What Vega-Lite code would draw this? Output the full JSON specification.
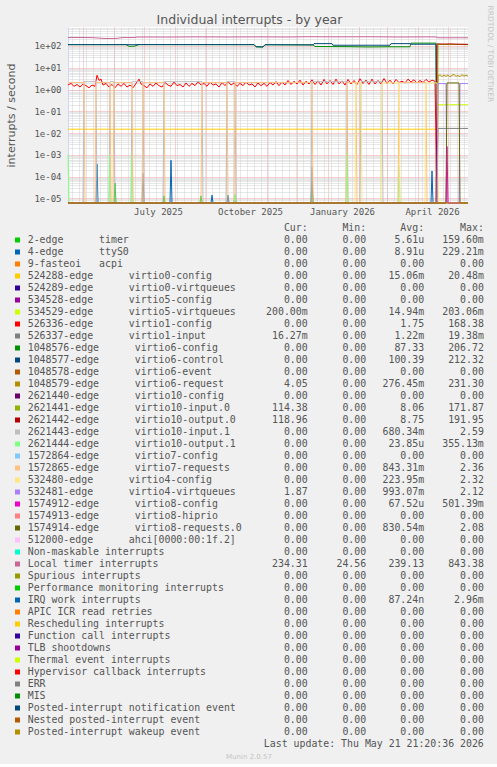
{
"$schema": "https://vega.github.io/schema/vega-lite/v6.json",
"background": "#F0F0F0",
"padding": {"left": 5, "top": 5, "right": 4, "bottom": 4},
"autosize": {"type": "pad"},
"bounds": "flush",
"spacing": 25,
"config": {
  "view": {"stroke": null},
  "axis": {"labelFont": "DejaVu Sans Mono", "labelFontSize": 9, "labelColor": "#555555", "titleFont": "DejaVu Sans", "titleFontWeight": "normal", "titleColor": "#555555", "domainColor": "#CFD6F8", "ticks": false, "tickSize": 0, "labelOverlap": false, "labelFlush": false},
  "text": {"font": "DejaVu Sans Mono", "fontSize": 9.9, "color": "#555555", "baseline": "middle"}
},
"datasets": {
"series": [
{"k":"timer","t":"2025-04-16","v":0},{"k":"timer","t":"2025-06-01","v":0},{"k":"timer","t":"2025-06-02","v":0.00005},{"k":"timer","t":"2025-06-03","v":0},{"k":"timer","t":"2025-07-20","v":0},{"k":"timer","t":"2025-07-21","v":0.000013},{"k":"timer","t":"2025-07-22","v":0},{"k":"timer","t":"2025-08-26","v":0},{"k":"timer","t":"2025-08-27","v":0.000013},{"k":"timer","t":"2025-08-28","v":0},{"k":"timer","t":"2025-12-15","v":0},{"k":"timer","t":"2025-12-16","v":0.00005},{"k":"timer","t":"2025-12-17","v":0},{"k":"timer","t":"2026-05-21","v":0},
{"k":"ttyS0","t":"2025-04-16","v":0},{"k":"ttyS0","t":"2025-05-14","v":0},{"k":"ttyS0","t":"2025-05-15","v":0.00037},{"k":"ttyS0","t":"2025-05-16","v":0},{"k":"ttyS0","t":"2025-07-27","v":0},{"k":"ttyS0","t":"2025-07-28","v":0.00056},{"k":"ttyS0","t":"2025-07-29","v":0},{"k":"ttyS0","t":"2025-09-06","v":0},{"k":"ttyS0","t":"2025-09-07","v":0.000014},{"k":"ttyS0","t":"2025-09-08","v":0},{"k":"ttyS0","t":"2025-09-22","v":0},{"k":"ttyS0","t":"2025-09-23","v":0.000014},{"k":"ttyS0","t":"2025-09-24","v":0},{"k":"ttyS0","t":"2025-09-29","v":0},{"k":"ttyS0","t":"2025-09-30","v":0.000014},{"k":"ttyS0","t":"2025-10-01","v":0},{"k":"ttyS0","t":"2026-04-14","v":0},{"k":"ttyS0","t":"2026-04-15","v":0.00018},{"k":"ttyS0","t":"2026-04-16","v":0},{"k":"ttyS0","t":"2026-05-21","v":0},
{"k":"virtio0-config","t":"2025-04-16","v":0.015},{"k":"virtio0-config","t":"2026-04-20","v":0.015},{"k":"virtio0-config","t":"2026-04-21","v":0},{"k":"virtio0-config","t":"2026-05-21","v":0},
{"k":"virtio5-virtqueues","t":"2025-04-16","v":0},{"k":"virtio5-virtqueues","t":"2026-04-20","v":0},{"k":"virtio5-virtqueues","t":"2026-04-21","v":0.2},{"k":"virtio5-virtqueues","t":"2026-05-21","v":0.2},
{"k":"virtio1-config","t":"2025-04-16","v":1.6},{"k":"virtio1-config","t":"2025-04-19","v":1.9},{"k":"virtio1-config","t":"2025-04-22","v":1.4},{"k":"virtio1-config","t":"2025-04-25","v":1.7},{"k":"virtio1-config","t":"2025-04-28","v":1.3},{"k":"virtio1-config","t":"2025-05-01","v":1.8},{"k":"virtio1-config","t":"2025-05-04","v":1.5},{"k":"virtio1-config","t":"2025-05-07","v":1.2},{"k":"virtio1-config","t":"2025-05-10","v":1.6},{"k":"virtio1-config","t":"2025-05-13","v":1.4},{"k":"virtio1-config","t":"2025-05-15","v":4.5},{"k":"virtio1-config","t":"2025-05-17","v":2.6},{"k":"virtio1-config","t":"2025-05-19","v":3.0},{"k":"virtio1-config","t":"2025-05-21","v":1.6},{"k":"virtio1-config","t":"2025-05-24","v":1.9},{"k":"virtio1-config","t":"2025-05-27","v":1.3},{"k":"virtio1-config","t":"2025-05-30","v":1.7},{"k":"virtio1-config","t":"2025-06-02","v":1.2},{"k":"virtio1-config","t":"2025-06-05","v":1.8},{"k":"virtio1-config","t":"2025-06-08","v":1.4},{"k":"virtio1-config","t":"2025-06-11","v":1.9},{"k":"virtio1-config","t":"2025-06-14","v":1.3},{"k":"virtio1-config","t":"2025-06-17","v":1.6},{"k":"virtio1-config","t":"2025-06-20","v":1.2},{"k":"virtio1-config","t":"2025-06-26","v":3.0},{"k":"virtio1-config","t":"2025-06-28","v":1.8},{"k":"virtio1-config","t":"2025-07-01","v":1.5},{"k":"virtio1-config","t":"2025-07-04","v":1.2},{"k":"virtio1-config","t":"2025-07-07","v":1.8},{"k":"virtio1-config","t":"2025-07-10","v":1.4},{"k":"virtio1-config","t":"2025-07-13","v":2.0},{"k":"virtio1-config","t":"2025-07-16","v":1.5},{"k":"virtio1-config","t":"2025-07-19","v":1.3},{"k":"virtio1-config","t":"2025-07-22","v":2.1},{"k":"virtio1-config","t":"2025-07-25","v":1.6},{"k":"virtio1-config","t":"2025-07-28","v":1.4},{"k":"virtio1-config","t":"2025-07-31","v":2.2},{"k":"virtio1-config","t":"2025-08-03","v":1.5},{"k":"virtio1-config","t":"2025-08-06","v":1.7},{"k":"virtio1-config","t":"2025-08-09","v":1.3},{"k":"virtio1-config","t":"2025-08-12","v":2.0},{"k":"virtio1-config","t":"2025-08-15","v":1.4},{"k":"virtio1-config","t":"2025-08-18","v":1.9},{"k":"virtio1-config","t":"2025-08-21","v":1.5},{"k":"virtio1-config","t":"2025-08-24","v":2.3},{"k":"virtio1-config","t":"2025-08-27","v":1.6},{"k":"virtio1-config","t":"2025-08-30","v":1.9},{"k":"virtio1-config","t":"2025-09-02","v":1.4},{"k":"virtio1-config","t":"2025-09-05","v":2.2},{"k":"virtio1-config","t":"2025-09-08","v":1.6},{"k":"virtio1-config","t":"2025-09-11","v":1.8},{"k":"virtio1-config","t":"2025-09-14","v":1.3},{"k":"virtio1-config","t":"2025-09-17","v":2.1},{"k":"virtio1-config","t":"2025-09-20","v":1.5},{"k":"virtio1-config","t":"2025-09-23","v":2.3},{"k":"virtio1-config","t":"2025-09-26","v":1.6},{"k":"virtio1-config","t":"2025-09-29","v":2.0},{"k":"virtio1-config","t":"2025-10-02","v":1.4},{"k":"virtio1-config","t":"2025-10-05","v":1.9},{"k":"virtio1-config","t":"2025-10-08","v":1.5},{"k":"virtio1-config","t":"2025-10-11","v":2.2},{"k":"virtio1-config","t":"2025-10-14","v":1.6},{"k":"virtio1-config","t":"2025-10-17","v":1.8},{"k":"virtio1-config","t":"2025-10-20","v":1.3},{"k":"virtio1-config","t":"2025-10-23","v":2.0},{"k":"virtio1-config","t":"2025-10-26","v":1.5},{"k":"virtio1-config","t":"2025-10-29","v":1.9},{"k":"virtio1-config","t":"2025-11-01","v":1.4},{"k":"virtio1-config","t":"2025-11-04","v":2.1},{"k":"virtio1-config","t":"2025-11-07","v":1.6},{"k":"virtio1-config","t":"2025-11-10","v":2.3},{"k":"virtio1-config","t":"2025-11-13","v":1.5},{"k":"virtio1-config","t":"2025-11-16","v":2.2},{"k":"virtio1-config","t":"2025-11-19","v":1.6},{"k":"virtio1-config","t":"2025-11-22","v":2.6},{"k":"virtio1-config","t":"2025-11-25","v":1.7},{"k":"virtio1-config","t":"2025-11-28","v":2.4},{"k":"virtio1-config","t":"2025-12-01","v":1.8},{"k":"virtio1-config","t":"2025-12-04","v":2.7},{"k":"virtio1-config","t":"2025-12-07","v":1.6},{"k":"virtio1-config","t":"2025-12-10","v":2.4},{"k":"virtio1-config","t":"2025-12-13","v":1.8},{"k":"virtio1-config","t":"2025-12-16","v":2.8},{"k":"virtio1-config","t":"2025-12-19","v":1.7},{"k":"virtio1-config","t":"2025-12-22","v":2.5},{"k":"virtio1-config","t":"2025-12-25","v":1.6},{"k":"virtio1-config","t":"2025-12-28","v":2.9},{"k":"virtio1-config","t":"2025-12-31","v":1.8},{"k":"virtio1-config","t":"2026-01-03","v":2.6},{"k":"virtio1-config","t":"2026-01-06","v":1.7},{"k":"virtio1-config","t":"2026-01-09","v":3.0},{"k":"virtio1-config","t":"2026-01-12","v":1.8},{"k":"virtio1-config","t":"2026-01-15","v":2.5},{"k":"virtio1-config","t":"2026-01-18","v":1.6},{"k":"virtio1-config","t":"2026-01-21","v":2.9},{"k":"virtio1-config","t":"2026-01-24","v":1.8},{"k":"virtio1-config","t":"2026-01-27","v":2.6},{"k":"virtio1-config","t":"2026-01-30","v":1.7},{"k":"virtio1-config","t":"2026-02-02","v":3.1},{"k":"virtio1-config","t":"2026-02-05","v":1.9},{"k":"virtio1-config","t":"2026-02-08","v":2.7},{"k":"virtio1-config","t":"2026-02-11","v":1.7},{"k":"virtio1-config","t":"2026-02-14","v":3.0},{"k":"virtio1-config","t":"2026-02-17","v":1.8},{"k":"virtio1-config","t":"2026-02-20","v":2.6},{"k":"virtio1-config","t":"2026-02-23","v":1.8},{"k":"virtio1-config","t":"2026-02-26","v":3.2},{"k":"virtio1-config","t":"2026-03-01","v":1.9},{"k":"virtio1-config","t":"2026-03-04","v":2.7},{"k":"virtio1-config","t":"2026-03-07","v":1.8},{"k":"virtio1-config","t":"2026-03-10","v":2.9},{"k":"virtio1-config","t":"2026-03-13","v":2.1},{"k":"virtio1-config","t":"2026-03-16","v":2.4},{"k":"virtio1-config","t":"2026-03-19","v":2.0},{"k":"virtio1-config","t":"2026-03-22","v":3.0},{"k":"virtio1-config","t":"2026-03-25","v":2.2},{"k":"virtio1-config","t":"2026-03-28","v":2.8},{"k":"virtio1-config","t":"2026-03-31","v":2.0},{"k":"virtio1-config","t":"2026-04-03","v":2.6},{"k":"virtio1-config","t":"2026-04-06","v":2.1},{"k":"virtio1-config","t":"2026-04-09","v":2.9},{"k":"virtio1-config","t":"2026-04-12","v":2.2},{"k":"virtio1-config","t":"2026-04-15","v":2.7},{"k":"virtio1-config","t":"2026-04-18","v":2.4},{"k":"virtio1-config","t":"2026-04-20","v":0},{"k":"virtio1-config","t":"2026-05-21","v":0},
{"k":"virtio1-input","t":"2025-04-16","v":0},{"k":"virtio1-input","t":"2025-06-29","v":0},{"k":"virtio1-input","t":"2025-06-30","v":0.00014},{"k":"virtio1-input","t":"2025-07-01","v":0},{"k":"virtio1-input","t":"2025-12-15","v":0},{"k":"virtio1-input","t":"2025-12-16","v":0.00028},{"k":"virtio1-input","t":"2025-12-17","v":0},{"k":"virtio1-input","t":"2026-04-20","v":0},{"k":"virtio1-input","t":"2026-04-21","v":0.0163},{"k":"virtio1-input","t":"2026-05-21","v":0.0163},
{"k":"virtio6-config","t":"2025-04-16","v":115},{"k":"virtio6-config","t":"2025-06-13","v":115},{"k":"virtio6-config","t":"2025-06-16","v":97},{"k":"virtio6-config","t":"2025-06-21","v":97},{"k":"virtio6-config","t":"2025-06-26","v":115},{"k":"virtio6-config","t":"2025-10-19","v":115},{"k":"virtio6-config","t":"2025-10-21","v":92},{"k":"virtio6-config","t":"2025-10-28","v":90},{"k":"virtio6-config","t":"2025-10-30","v":114},{"k":"virtio6-config","t":"2025-12-17","v":112},{"k":"virtio6-config","t":"2025-12-19","v":95},{"k":"virtio6-config","t":"2026-01-21","v":93},{"k":"virtio6-config","t":"2026-02-10","v":90},{"k":"virtio6-config","t":"2026-03-02","v":92},{"k":"virtio6-config","t":"2026-03-24","v":92},{"k":"virtio6-config","t":"2026-03-25","v":135},{"k":"virtio6-config","t":"2026-04-19","v":135},{"k":"virtio6-config","t":"2026-04-20","v":0},{"k":"virtio6-config","t":"2026-05-21","v":0},
{"k":"virtio6-control","t":"2025-04-16","v":115},{"k":"virtio6-control","t":"2025-06-13","v":115},{"k":"virtio6-control","t":"2025-06-21","v":114},{"k":"virtio6-control","t":"2025-06-26","v":116},{"k":"virtio6-control","t":"2025-10-19","v":115},{"k":"virtio6-control","t":"2025-10-21","v":92},{"k":"virtio6-control","t":"2025-10-28","v":90},{"k":"virtio6-control","t":"2025-10-30","v":114},{"k":"virtio6-control","t":"2025-12-17","v":112},{"k":"virtio6-control","t":"2025-12-18","v":128},{"k":"virtio6-control","t":"2026-01-05","v":128},{"k":"virtio6-control","t":"2026-01-06","v":108},{"k":"virtio6-control","t":"2026-03-04","v":108},{"k":"virtio6-control","t":"2026-03-05","v":128},{"k":"virtio6-control","t":"2026-03-24","v":128},{"k":"virtio6-control","t":"2026-03-25","v":120},{"k":"virtio6-control","t":"2026-04-19","v":120},{"k":"virtio6-control","t":"2026-04-20","v":0},{"k":"virtio6-control","t":"2026-05-21","v":0},
{"k":"virtio6-request","t":"2025-04-16","v":0},{"k":"virtio6-request","t":"2026-04-20","v":0},{"k":"virtio6-request","t":"2026-04-21","v":4.2},{"k":"virtio6-request","t":"2026-04-23","v":4.8},{"k":"virtio6-request","t":"2026-04-25","v":3.9},{"k":"virtio6-request","t":"2026-04-27","v":4.6},{"k":"virtio6-request","t":"2026-04-29","v":4.0},{"k":"virtio6-request","t":"2026-05-01","v":4.7},{"k":"virtio6-request","t":"2026-05-03","v":3.8},{"k":"virtio6-request","t":"2026-05-05","v":4.5},{"k":"virtio6-request","t":"2026-05-07","v":4.9},{"k":"virtio6-request","t":"2026-05-09","v":4.0},{"k":"virtio6-request","t":"2026-05-11","v":4.4},{"k":"virtio6-request","t":"2026-05-13","v":3.9},{"k":"virtio6-request","t":"2026-05-15","v":4.8},{"k":"virtio6-request","t":"2026-05-17","v":4.1},{"k":"virtio6-request","t":"2026-05-19","v":4.6},{"k":"virtio6-request","t":"2026-05-21","v":4.05},
{"k":"virtio10-input.0","t":"2025-04-16","v":0},{"k":"virtio10-input.0","t":"2026-04-20","v":0},{"k":"virtio10-input.0","t":"2026-04-21","v":117},{"k":"virtio10-input.0","t":"2026-05-01","v":116},{"k":"virtio10-input.0","t":"2026-05-11","v":117},{"k":"virtio10-input.0","t":"2026-05-21","v":114},
{"k":"virtio10-output.0","t":"2025-04-16","v":0},{"k":"virtio10-output.0","t":"2026-04-19","v":0},{"k":"virtio10-output.0","t":"2026-04-20","v":125},{"k":"virtio10-output.0","t":"2026-04-26","v":122},{"k":"virtio10-output.0","t":"2026-05-03","v":124},{"k":"virtio10-output.0","t":"2026-05-11","v":121},{"k":"virtio10-output.0","t":"2026-05-21","v":119},
{"k":"virtio10-input.1","t":"2025-04-16","v":0},{"k":"virtio10-input.1","t":"2025-05-01","v":0},{"k":"virtio10-input.1","t":"2025-05-02","v":2.3},{"k":"virtio10-input.1","t":"2025-05-14","v":2.3},{"k":"virtio10-input.1","t":"2025-05-15","v":0},{"k":"virtio10-input.1","t":"2025-05-27","v":0},{"k":"virtio10-input.1","t":"2025-05-28","v":2.3},{"k":"virtio10-input.1","t":"2025-06-01","v":2.3},{"k":"virtio10-input.1","t":"2025-06-02","v":0},{"k":"virtio10-input.1","t":"2025-06-18","v":0},{"k":"virtio10-input.1","t":"2025-06-19","v":2.3},{"k":"virtio10-input.1","t":"2025-06-30","v":2.3},{"k":"virtio10-input.1","t":"2025-07-01","v":0},{"k":"virtio10-input.1","t":"2025-07-20","v":0},{"k":"virtio10-input.1","t":"2025-07-21","v":2.3},{"k":"virtio10-input.1","t":"2025-08-28","v":2.3},{"k":"virtio10-input.1","t":"2025-08-29","v":0},{"k":"virtio10-input.1","t":"2025-09-21","v":0},{"k":"virtio10-input.1","t":"2025-09-22","v":2.3},{"k":"virtio10-input.1","t":"2025-09-30","v":2.3},{"k":"virtio10-input.1","t":"2025-10-01","v":0},{"k":"virtio10-input.1","t":"2025-12-15","v":0},{"k":"virtio10-input.1","t":"2025-12-16","v":2.3},{"k":"virtio10-input.1","t":"2026-01-20","v":2.3},{"k":"virtio10-input.1","t":"2026-01-21","v":0},{"k":"virtio10-input.1","t":"2026-02-02","v":0},{"k":"virtio10-input.1","t":"2026-02-03","v":2.3},{"k":"virtio10-input.1","t":"2026-02-24","v":2.3},{"k":"virtio10-input.1","t":"2026-02-25","v":0},{"k":"virtio10-input.1","t":"2026-05-21","v":0},
{"k":"virtio10-output.1","t":"2025-04-16","v":0.001},{"k":"virtio10-output.1","t":"2025-04-17","v":0},{"k":"virtio10-output.1","t":"2025-05-27","v":0},{"k":"virtio10-output.1","t":"2025-05-28","v":0.001},{"k":"virtio10-output.1","t":"2025-05-29","v":0},{"k":"virtio10-output.1","t":"2025-06-18","v":0},{"k":"virtio10-output.1","t":"2025-06-19","v":0.001},{"k":"virtio10-output.1","t":"2025-06-20","v":0},{"k":"virtio10-output.1","t":"2025-09-29","v":0},{"k":"virtio10-output.1","t":"2025-09-30","v":0.000015},{"k":"virtio10-output.1","t":"2025-10-01","v":0},{"k":"virtio10-output.1","t":"2026-01-19","v":0},{"k":"virtio10-output.1","t":"2026-01-20","v":0.0012},{"k":"virtio10-output.1","t":"2026-01-21","v":0},{"k":"virtio10-output.1","t":"2026-03-12","v":0},{"k":"virtio10-output.1","t":"2026-03-13","v":0.00028},{"k":"virtio10-output.1","t":"2026-03-14","v":0},{"k":"virtio10-output.1","t":"2026-05-21","v":0},
{"k":"virtio7-requests","t":"2025-04-16","v":2.1},{"k":"virtio7-requests","t":"2025-05-02","v":2.1},{"k":"virtio7-requests","t":"2025-05-03","v":0},{"k":"virtio7-requests","t":"2025-05-13","v":0},{"k":"virtio7-requests","t":"2025-05-14","v":2.1},{"k":"virtio7-requests","t":"2025-05-28","v":2.1},{"k":"virtio7-requests","t":"2025-05-29","v":0},{"k":"virtio7-requests","t":"2025-05-31","v":0},{"k":"virtio7-requests","t":"2025-06-01","v":2.1},{"k":"virtio7-requests","t":"2025-06-19","v":2.1},{"k":"virtio7-requests","t":"2025-06-20","v":0},{"k":"virtio7-requests","t":"2025-06-29","v":0},{"k":"virtio7-requests","t":"2025-06-30","v":2.1},{"k":"virtio7-requests","t":"2025-07-21","v":2.1},{"k":"virtio7-requests","t":"2025-07-22","v":0},{"k":"virtio7-requests","t":"2025-08-27","v":0},{"k":"virtio7-requests","t":"2025-08-28","v":2.1},{"k":"virtio7-requests","t":"2025-09-22","v":2.1},{"k":"virtio7-requests","t":"2025-09-23","v":0},{"k":"virtio7-requests","t":"2025-09-29","v":0},{"k":"virtio7-requests","t":"2025-09-30","v":2.1},{"k":"virtio7-requests","t":"2025-12-16","v":2.1},{"k":"virtio7-requests","t":"2025-12-17","v":0},{"k":"virtio7-requests","t":"2026-01-19","v":0},{"k":"virtio7-requests","t":"2026-01-20","v":2.1},{"k":"virtio7-requests","t":"2026-01-29","v":2.1},{"k":"virtio7-requests","t":"2026-01-30","v":0},{"k":"virtio7-requests","t":"2026-03-12","v":0},{"k":"virtio7-requests","t":"2026-03-13","v":2.1},{"k":"virtio7-requests","t":"2026-04-09","v":2.1},{"k":"virtio7-requests","t":"2026-04-10","v":0},{"k":"virtio7-requests","t":"2026-05-21","v":0},
{"k":"virtio4-config","t":"2025-04-16","v":0},{"k":"virtio4-config","t":"2026-01-28","v":0},{"k":"virtio4-config","t":"2026-01-29","v":2.0},{"k":"virtio4-config","t":"2026-02-03","v":2.0},{"k":"virtio4-config","t":"2026-02-04","v":0},{"k":"virtio4-config","t":"2026-02-23","v":0},{"k":"virtio4-config","t":"2026-02-24","v":2.0},{"k":"virtio4-config","t":"2026-03-13","v":2.0},{"k":"virtio4-config","t":"2026-03-14","v":0},{"k":"virtio4-config","t":"2026-04-08","v":0},{"k":"virtio4-config","t":"2026-04-09","v":2.0},{"k":"virtio4-config","t":"2026-04-20","v":2.0},{"k":"virtio4-config","t":"2026-04-21","v":0},{"k":"virtio4-config","t":"2026-05-21","v":0},
{"k":"virtio4-virtqueues","t":"2025-04-16","v":0},{"k":"virtio4-virtqueues","t":"2026-04-20","v":0},{"k":"virtio4-virtqueues","t":"2026-04-21","v":1.87},{"k":"virtio4-virtqueues","t":"2026-04-29","v":1.87},{"k":"virtio4-virtqueues","t":"2026-04-30","v":0},{"k":"virtio4-virtqueues","t":"2026-05-12","v":0},{"k":"virtio4-virtqueues","t":"2026-05-13","v":1.87},{"k":"virtio4-virtqueues","t":"2026-05-21","v":1.87},
{"k":"virtio8-config","t":"2025-04-16","v":0},{"k":"virtio8-config","t":"2026-04-29","v":0},{"k":"virtio8-config","t":"2026-04-30","v":0.0024},{"k":"virtio8-config","t":"2026-05-01","v":0},{"k":"virtio8-config","t":"2026-05-21","v":0},
{"k":"virtio8-requests.0","t":"2025-04-16","v":0},{"k":"virtio8-requests.0","t":"2026-04-29","v":0},{"k":"virtio8-requests.0","t":"2026-04-30","v":2.0},{"k":"virtio8-requests.0","t":"2026-05-12","v":2.0},{"k":"virtio8-requests.0","t":"2026-05-13","v":0},{"k":"virtio8-requests.0","t":"2026-05-21","v":0},
{"k":"LOC","t":"2025-04-16","v":245},{"k":"LOC","t":"2025-04-28","v":246},{"k":"LOC","t":"2025-05-10","v":242},{"k":"LOC","t":"2025-05-16","v":232},{"k":"LOC","t":"2025-05-22","v":221},{"k":"LOC","t":"2025-06-03","v":222},{"k":"LOC","t":"2025-06-10","v":244},{"k":"LOC","t":"2025-06-21","v":244},{"k":"LOC","t":"2025-06-25","v":258},{"k":"LOC","t":"2025-07-25","v":257},{"k":"LOC","t":"2025-08-24","v":262},{"k":"LOC","t":"2025-09-23","v":258},{"k":"LOC","t":"2025-10-23","v":262},{"k":"LOC","t":"2025-11-22","v":258},{"k":"LOC","t":"2025-12-12","v":266},{"k":"LOC","t":"2026-01-11","v":262},{"k":"LOC","t":"2026-02-10","v":265},{"k":"LOC","t":"2026-03-12","v":258},{"k":"LOC","t":"2026-04-11","v":262},{"k":"LOC","t":"2026-04-19","v":258},{"k":"LOC","t":"2026-04-21","v":238},{"k":"LOC","t":"2026-05-21","v":238},
{"k":"PIW","t":"2025-04-16","v":0},{"k":"PIW","t":"2026-05-21","v":0}
],
"legend": [
{"k":"hdr","n":"","c":"Cur:\u00a0\u00a0","mi":"Min:\u00a0\u00a0","a":"Avg:\u00a0\u00a0","ma":"Max:\u00a0\u00a0"},
{"k":"timer","n":"2-edge\u00a0\u00a0\u00a0\u00a0\u00a0\u00a0timer","c":"0.00\u00a0","mi":"0.00\u00a0","a":"5.61u","ma":"159.60m"},
{"k":"ttyS0","n":"4-edge\u00a0\u00a0\u00a0\u00a0\u00a0\u00a0ttyS0","c":"0.00\u00a0","mi":"0.00\u00a0","a":"8.91u","ma":"229.21m"},
{"k":"acpi","n":"9-fasteoi\u00a0\u00a0\u00a0acpi","c":"0.00\u00a0","mi":"0.00\u00a0","a":"0.00\u00a0","ma":"0.00\u00a0"},
{"k":"virtio0-config","n":"524288-edge\u00a0\u00a0\u00a0\u00a0\u00a0\u00a0virtio0-config","c":"0.00\u00a0","mi":"0.00\u00a0","a":"15.06m","ma":"20.48m"},
{"k":"virtio0-virtqueues","n":"524289-edge\u00a0\u00a0\u00a0\u00a0\u00a0\u00a0virtio0-virtqueues","c":"0.00\u00a0","mi":"0.00\u00a0","a":"0.00\u00a0","ma":"0.00\u00a0"},
{"k":"virtio5-config","n":"534528-edge\u00a0\u00a0\u00a0\u00a0\u00a0\u00a0virtio5-config","c":"0.00\u00a0","mi":"0.00\u00a0","a":"0.00\u00a0","ma":"0.00\u00a0"},
{"k":"virtio5-virtqueues","n":"534529-edge\u00a0\u00a0\u00a0\u00a0\u00a0\u00a0virtio5-virtqueues","c":"200.00m","mi":"0.00\u00a0","a":"14.94m","ma":"203.06m"},
{"k":"virtio1-config","n":"526336-edge\u00a0\u00a0\u00a0\u00a0\u00a0\u00a0virtio1-config","c":"0.00\u00a0","mi":"0.00\u00a0","a":"1.75\u00a0","ma":"168.38\u00a0"},
{"k":"virtio1-input","n":"526337-edge\u00a0\u00a0\u00a0\u00a0\u00a0\u00a0virtio1-input","c":"16.27m","mi":"0.00\u00a0","a":"1.22m","ma":"19.38m"},
{"k":"virtio6-config","n":"1048576-edge\u00a0\u00a0\u00a0\u00a0\u00a0\u00a0virtio6-config","c":"0.00\u00a0","mi":"0.00\u00a0","a":"87.33\u00a0","ma":"206.72\u00a0"},
{"k":"virtio6-control","n":"1048577-edge\u00a0\u00a0\u00a0\u00a0\u00a0\u00a0virtio6-control","c":"0.00\u00a0","mi":"0.00\u00a0","a":"100.39\u00a0","ma":"212.32\u00a0"},
{"k":"virtio6-event","n":"1048578-edge\u00a0\u00a0\u00a0\u00a0\u00a0\u00a0virtio6-event","c":"0.00\u00a0","mi":"0.00\u00a0","a":"0.00\u00a0","ma":"0.00\u00a0"},
{"k":"virtio6-request","n":"1048579-edge\u00a0\u00a0\u00a0\u00a0\u00a0\u00a0virtio6-request","c":"4.05\u00a0","mi":"0.00\u00a0","a":"276.45m","ma":"231.30\u00a0"},
{"k":"virtio10-config","n":"2621440-edge\u00a0\u00a0\u00a0\u00a0\u00a0\u00a0virtio10-config","c":"0.00\u00a0","mi":"0.00\u00a0","a":"0.00\u00a0","ma":"0.00\u00a0"},
{"k":"virtio10-input.0","n":"2621441-edge\u00a0\u00a0\u00a0\u00a0\u00a0\u00a0virtio10-input.0","c":"114.38\u00a0","mi":"0.00\u00a0","a":"8.06\u00a0","ma":"171.87\u00a0"},
{"k":"virtio10-output.0","n":"2621442-edge\u00a0\u00a0\u00a0\u00a0\u00a0\u00a0virtio10-output.0","c":"118.96\u00a0","mi":"0.00\u00a0","a":"8.75\u00a0","ma":"191.95\u00a0"},
{"k":"virtio10-input.1","n":"2621443-edge\u00a0\u00a0\u00a0\u00a0\u00a0\u00a0virtio10-input.1","c":"0.00\u00a0","mi":"0.00\u00a0","a":"680.34m","ma":"2.59\u00a0"},
{"k":"virtio10-output.1","n":"2621444-edge\u00a0\u00a0\u00a0\u00a0\u00a0\u00a0virtio10-output.1","c":"0.00\u00a0","mi":"0.00\u00a0","a":"23.85u","ma":"355.13m"},
{"k":"virtio7-config","n":"1572864-edge\u00a0\u00a0\u00a0\u00a0\u00a0\u00a0virtio7-config","c":"0.00\u00a0","mi":"0.00\u00a0","a":"0.00\u00a0","ma":"0.00\u00a0"},
{"k":"virtio7-requests","n":"1572865-edge\u00a0\u00a0\u00a0\u00a0\u00a0\u00a0virtio7-requests","c":"0.00\u00a0","mi":"0.00\u00a0","a":"843.31m","ma":"2.36\u00a0"},
{"k":"virtio4-config","n":"532480-edge\u00a0\u00a0\u00a0\u00a0\u00a0\u00a0virtio4-config","c":"0.00\u00a0","mi":"0.00\u00a0","a":"223.95m","ma":"2.32\u00a0"},
{"k":"virtio4-virtqueues","n":"532481-edge\u00a0\u00a0\u00a0\u00a0\u00a0\u00a0virtio4-virtqueues","c":"1.87\u00a0","mi":"0.00\u00a0","a":"993.07m","ma":"2.12\u00a0"},
{"k":"virtio8-config","n":"1574912-edge\u00a0\u00a0\u00a0\u00a0\u00a0\u00a0virtio8-config","c":"0.00\u00a0","mi":"0.00\u00a0","a":"67.52u","ma":"501.39m"},
{"k":"virtio8-hiprio","n":"1574913-edge\u00a0\u00a0\u00a0\u00a0\u00a0\u00a0virtio8-hiprio","c":"0.00\u00a0","mi":"0.00\u00a0","a":"0.00\u00a0","ma":"0.00\u00a0"},
{"k":"virtio8-requests.0","n":"1574914-edge\u00a0\u00a0\u00a0\u00a0\u00a0\u00a0virtio8-requests.0","c":"0.00\u00a0","mi":"0.00\u00a0","a":"830.54m","ma":"2.08\u00a0"},
{"k":"ahci","n":"512000-edge\u00a0\u00a0\u00a0\u00a0\u00a0\u00a0ahci[0000:00:1f.2]","c":"0.00\u00a0","mi":"0.00\u00a0","a":"0.00\u00a0","ma":"0.00\u00a0"},
{"k":"NMI","n":"Non-maskable interrupts","c":"0.00\u00a0","mi":"0.00\u00a0","a":"0.00\u00a0","ma":"0.00\u00a0"},
{"k":"LOC","n":"Local timer interrupts","c":"234.31\u00a0","mi":"24.56\u00a0","a":"239.13\u00a0","ma":"843.38\u00a0"},
{"k":"SPU","n":"Spurious interrupts","c":"0.00\u00a0","mi":"0.00\u00a0","a":"0.00\u00a0","ma":"0.00\u00a0"},
{"k":"PMI","n":"Performance monitoring interrupts","c":"0.00\u00a0","mi":"0.00\u00a0","a":"0.00\u00a0","ma":"0.00\u00a0"},
{"k":"IWI","n":"IRQ work interrupts","c":"0.00\u00a0","mi":"0.00\u00a0","a":"87.24n","ma":"2.96m"},
{"k":"RTR","n":"APIC ICR read retries","c":"0.00\u00a0","mi":"0.00\u00a0","a":"0.00\u00a0","ma":"0.00\u00a0"},
{"k":"RES","n":"Rescheduling interrupts","c":"0.00\u00a0","mi":"0.00\u00a0","a":"0.00\u00a0","ma":"0.00\u00a0"},
{"k":"CAL","n":"Function call interrupts","c":"0.00\u00a0","mi":"0.00\u00a0","a":"0.00\u00a0","ma":"0.00\u00a0"},
{"k":"TLB","n":"TLB shootdowns","c":"0.00\u00a0","mi":"0.00\u00a0","a":"0.00\u00a0","ma":"0.00\u00a0"},
{"k":"TRM","n":"Thermal event interrupts","c":"0.00\u00a0","mi":"0.00\u00a0","a":"0.00\u00a0","ma":"0.00\u00a0"},
{"k":"HYP","n":"Hypervisor callback interrupts","c":"0.00\u00a0","mi":"0.00\u00a0","a":"0.00\u00a0","ma":"0.00\u00a0"},
{"k":"ERR","n":"ERR","c":"0.00\u00a0","mi":"0.00\u00a0","a":"0.00\u00a0","ma":"0.00\u00a0"},
{"k":"MIS","n":"MIS","c":"0.00\u00a0","mi":"0.00\u00a0","a":"0.00\u00a0","ma":"0.00\u00a0"},
{"k":"PIN","n":"Posted-interrupt notification event","c":"0.00\u00a0","mi":"0.00\u00a0","a":"0.00\u00a0","ma":"0.00\u00a0"},
{"k":"NPI","n":"Nested posted-interrupt event","c":"0.00\u00a0","mi":"0.00\u00a0","a":"0.00\u00a0","ma":"0.00\u00a0"},
{"k":"PIW","n":"Posted-interrupt wakeup event","c":"0.00\u00a0","mi":"0.00\u00a0","a":"0.00\u00a0","ma":"0.00\u00a0"},
{"k":"upd","n":"","c":"","mi":"","a":"","ma":"Last update: Thu May 21 21:20:36 2026"}
]
},
"vconcat": [
{
  "width": 400, "height": 176,
  "view": {"fill": "#FFFFFF", "stroke": null},
  "data": {"name": "series"},
  "resolve": {"axis": {"x": "independent", "y": "independent"}},
  "layer": [
    {
      "transform": [{"filter": "datum.k != 'PIW'"}],
      "mark": {"type": "line", "strokeWidth": 1, "invalid": "show"},
      "encoding": {
        "x": {"field": "t", "type": "temporal",
          "scale": {"type": "utc", "domain": [{"year": 2025, "month": 4, "date": 16, "utc": true}, {"year": 2026, "month": 5, "date": 21, "utc": true}], "nice": false},
          "axis": {"orient": "top", "tickCount": {"interval": "week", "step": 1}, "grid": true, "gridColor": "#d0d0d0", "gridDash": [1, 1], "labels": false, "ticks": false, "domain": false,
            "title": "Individual interrupts - by year", "titleX": 181, "titleY": -8, "titleAlign": "center", "titleBaseline": "middle", "titleAnchor": null, "titleAngle": 0, "titleFontSize": 12.5, "titleColor": "#555555"}},
        "y": {"field": "v", "type": "quantitative",
          "scale": {"type": "log", "domain": [0.0000061, 744], "nice": false, "clamp": true},
          "axis": {"orient": "left",
            "values": [0.000007,0.000008,0.000009,0.00001,0.00002,0.00003,0.00004,0.00005,0.00006,0.00007,0.00008,0.00009,0.0001,0.0002,0.0003,0.0004,0.0005,0.0006,0.0007,0.0008,0.0009,0.001,0.002,0.003,0.004,0.005,0.006,0.007,0.008,0.009,0.01,0.02,0.03,0.04,0.05,0.06,0.07,0.08,0.09,0.1,0.2,0.3,0.4,0.5,0.6,0.7,0.8,0.9,1,2,3,4,5,6,7,8,9,10,20,30,40,50,60,70,80,90,100,200,300,400,500,600,700],
            "grid": true,
            "gridColor": {"condition": {"test": "abs(log(datum.value)/LN10 - round(log(datum.value)/LN10)) < 0.001", "value": "#f0a0a0"}, "value": "#d0d0d0"},
            "gridDash": [1, 1],
            "labelExpr": "abs(log(datum.value)/LN10 - round(log(datum.value)/LN10)) < 0.001 ? '1e' + (datum.value < 1 ? '-' : '+') + '0' + abs(round(log(datum.value)/LN10)) : ''",
            "labelPadding": 7, "ticks": false, "domain": true, "domainColor": "#CFD6F8",
            "title": "interrupts / second", "titleFontSize": 11, "titleX": -56.5, "titleY": 88, "titleAngle": -90, "titleAlign": "center", "titleBaseline": "middle", "titleAnchor": null}},
        "color": {"field": "k", "type": "nominal", "legend": null,
          "scale": {"domain": ["timer","ttyS0","acpi","virtio0-config","virtio0-virtqueues","virtio5-config","virtio5-virtqueues","virtio1-config","virtio1-input","virtio6-config","virtio6-control","virtio6-event","virtio6-request","virtio10-config","virtio10-input.0","virtio10-output.0","virtio10-input.1","virtio10-output.1","virtio7-config","virtio7-requests","virtio4-config","virtio4-virtqueues","virtio8-config","virtio8-hiprio","virtio8-requests.0","ahci","NMI","LOC","SPU","PMI","IWI","RTR","RES","CAL","TLB","TRM","HYP","ERR","MIS","PIN","NPI","PIW"],
            "range": ["#00CC00","#0066B3","#FF8000","#FFCC00","#330099","#990099","#CCFF00","#FF0000","#808080","#008F00","#00487D","#B35A00","#B38F00","#6B006B","#8FB300","#B30000","#BEBEBE","#80FF80","#80C9FF","#FFC080","#FFE680","#AA80FF","#EE00CC","#FF8080","#666600","#FFBFFF","#00FFCC","#CC6699","#999900","#00CC00","#0066B3","#FF8000","#FFCC00","#330099","#990099","#CCFF00","#FF0000","#808080","#008F00","#00487D","#B35A00","#B38F00"]}}
      }
    },
    {
      "transform": [{"filter": "datum.k == 'PIW'"}],
      "mark": {"type": "line", "strokeWidth": 1, "invalid": "show"},
      "encoding": {
        "x": {"field": "t", "type": "temporal",
          "scale": {"type": "utc", "domain": [{"year": 2025, "month": 4, "date": 16, "utc": true}, {"year": 2026, "month": 5, "date": 21, "utc": true}], "nice": false},
          "axis": {"orient": "bottom",
            "values": [{"year":2025,"month":5,"date":1,"utc":true},{"year":2025,"month":6,"date":1,"utc":true},{"year":2025,"month":7,"date":1,"utc":true},{"year":2025,"month":8,"date":1,"utc":true},{"year":2025,"month":9,"date":1,"utc":true},{"year":2025,"month":10,"date":1,"utc":true},{"year":2025,"month":11,"date":1,"utc":true},{"year":2025,"month":12,"date":1,"utc":true},{"year":2026,"month":1,"date":1,"utc":true},{"year":2026,"month":2,"date":1,"utc":true},{"year":2026,"month":3,"date":1,"utc":true},{"year":2026,"month":4,"date":1,"utc":true},{"year":2026,"month":5,"date":1,"utc":true},{"year":2025,"month":7,"date":15,"utc":true},{"year":2025,"month":10,"date":15,"utc":true},{"year":2026,"month":1,"date":15,"utc":true},{"year":2026,"month":4,"date":15,"utc":true}],
            "grid": true, "gridColor": "#f0a0a0", "gridDash": [1, 1],
            "gridOpacity": {"condition": {"test": "utcdate(datum.value) == 1", "value": 1}, "value": 0},
            "labelExpr": "utcdate(datum.value) == 15 ? utcFormat(datum.value, '%B %Y') : ''",
            "labelPadding": 4, "ticks": false, "domain": true, "domainColor": "#CFD6F8", "title": null}},
        "y": {"field": "v", "type": "quantitative",
          "scale": {"type": "log", "domain": [0.0000061, 744], "nice": false, "clamp": true},
          "axis": {"orient": "right", "labels": false, "ticks": false, "grid": false, "domain": false,
            "title": "RRDTOOL / TOBI OETIKER", "titleFont": "DejaVu Sans", "titleFontSize": 7.5, "titleColor": "#c4c4c4", "titleAngle": 90, "titleX": 21, "titleY": -22, "titleAlign": "left", "titleBaseline": "middle", "titleAnchor": null}},
        "color": {"field": "k", "type": "nominal", "legend": null,
          "scale": {"domain": ["timer","ttyS0","acpi","virtio0-config","virtio0-virtqueues","virtio5-config","virtio5-virtqueues","virtio1-config","virtio1-input","virtio6-config","virtio6-control","virtio6-event","virtio6-request","virtio10-config","virtio10-input.0","virtio10-output.0","virtio10-input.1","virtio10-output.1","virtio7-config","virtio7-requests","virtio4-config","virtio4-virtqueues","virtio8-config","virtio8-hiprio","virtio8-requests.0","ahci","NMI","LOC","SPU","PMI","IWI","RTR","RES","CAL","TLB","TRM","HYP","ERR","MIS","PIN","NPI","PIW"],
            "range": ["#00CC00","#0066B3","#FF8000","#FFCC00","#330099","#990099","#CCFF00","#FF0000","#808080","#008F00","#00487D","#B35A00","#B38F00","#6B006B","#8FB300","#B30000","#BEBEBE","#80FF80","#80C9FF","#FFC080","#FFE680","#AA80FF","#EE00CC","#FF8080","#666600","#FFBFFF","#00FFCC","#CC6699","#999900","#00CC00","#0066B3","#FF8000","#FFCC00","#330099","#990099","#CCFF00","#FF0000","#808080","#008F00","#00487D","#B35A00","#B38F00"]}}
      }
    }
  ]
},
{
  "width": 400, "height": 516,
  "data": {"name": "legend"},
  "title": {"text": "Munin 2.0.57", "orient": "bottom", "anchor": "middle", "frame": "group", "dx": -19, "offset": 4, "fontSize": 7, "font": "DejaVu Sans", "fontWeight": "normal", "color": "#c4c4c4"},
  "encoding": {
    "y": {"field": "k", "type": "nominal", "axis": null,
      "scale": {"type": "point", "padding": 0, "domain": ["hdr","timer","ttyS0","acpi","virtio0-config","virtio0-virtqueues","virtio5-config","virtio5-virtqueues","virtio1-config","virtio1-input","virtio6-config","virtio6-control","virtio6-event","virtio6-request","virtio10-config","virtio10-input.0","virtio10-output.0","virtio10-input.1","virtio10-output.1","virtio7-config","virtio7-requests","virtio4-config","virtio4-virtqueues","virtio8-config","virtio8-hiprio","virtio8-requests.0","ahci","NMI","LOC","SPU","PMI","IWI","RTR","RES","CAL","TLB","TRM","HYP","ERR","MIS","PIN","NPI","PIW","upd"]}}
  },
  "layer": [
    {
      "transform": [{"filter": "datum.k != 'hdr' && datum.k != 'upd'"}],
      "mark": {"type": "square", "size": 25, "opacity": 1, "filled": true},
      "encoding": {
        "x": {"datum": -1.71, "type": "quantitative", "scale": {"domain": [6.75, 73.75], "nice": false, "zero": false}, "axis": null},
        "color": {"field": "k", "type": "nominal", "legend": null,
          "scale": {"domain": ["timer","ttyS0","acpi","virtio0-config","virtio0-virtqueues","virtio5-config","virtio5-virtqueues","virtio1-config","virtio1-input","virtio6-config","virtio6-control","virtio6-event","virtio6-request","virtio10-config","virtio10-input.0","virtio10-output.0","virtio10-input.1","virtio10-output.1","virtio7-config","virtio7-requests","virtio4-config","virtio4-virtqueues","virtio8-config","virtio8-hiprio","virtio8-requests.0","ahci","NMI","LOC","SPU","PMI","IWI","RTR","RES","CAL","TLB","TRM","HYP","ERR","MIS","PIN","NPI","PIW"],
            "range": ["#00CC00","#0066B3","#FF8000","#FFCC00","#330099","#990099","#CCFF00","#FF0000","#808080","#008F00","#00487D","#B35A00","#B38F00","#6B006B","#8FB300","#B30000","#BEBEBE","#80FF80","#80C9FF","#FFC080","#FFE680","#AA80FF","#EE00CC","#FF8080","#666600","#FFBFFF","#00FFCC","#CC6699","#999900","#00CC00","#0066B3","#FF8000","#FFCC00","#330099","#990099","#CCFF00","#FF0000","#808080","#008F00","#00487D","#B35A00","#B38F00"]}}
      }
    },
    {"mark": {"type": "text", "align": "left"}, "encoding": {"x": {"datum": 0, "type": "quantitative", "scale": {"domain": [6.75, 73.75], "nice": false, "zero": false}, "axis": null}, "text": {"field": "n"}}},
    {"mark": {"type": "text", "align": "right"}, "encoding": {"x": {"datum": 46.9, "type": "quantitative", "scale": {"domain": [6.75, 73.75], "nice": false, "zero": false}, "axis": null}, "text": {"field": "c"}}},
    {"mark": {"type": "text", "align": "right"}, "encoding": {"x": {"datum": 56.7, "type": "quantitative", "scale": {"domain": [6.75, 73.75], "nice": false, "zero": false}, "axis": null}, "text": {"field": "mi"}}},
    {"mark": {"type": "text", "align": "right"}, "encoding": {"x": {"datum": 66.4, "type": "quantitative", "scale": {"domain": [6.75, 73.75], "nice": false, "zero": false}, "axis": null}, "text": {"field": "a"}}},
    {"mark": {"type": "text", "align": "right"}, "encoding": {"x": {"datum": 76.4, "type": "quantitative", "scale": {"domain": [6.75, 73.75], "nice": false, "zero": false}, "axis": null}, "text": {"field": "ma"}}}
  ]
}
]
}
